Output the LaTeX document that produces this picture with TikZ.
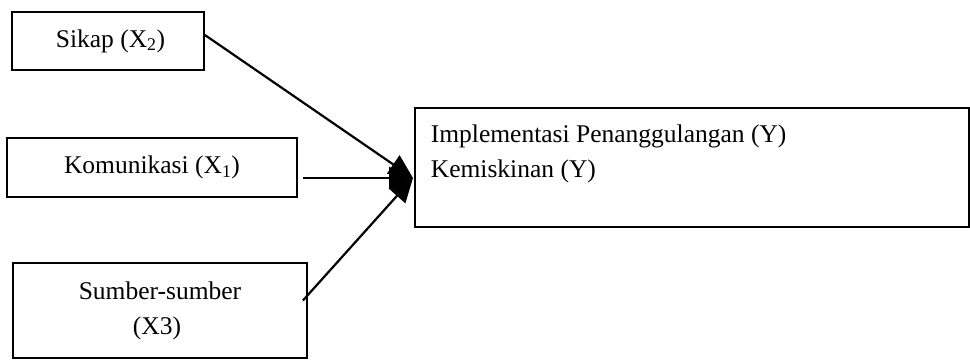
\documentclass[tikz,border=0pt]{standalone}
\usepackage{fontspec}
\setmainfont{Liberation Serif}
\usetikzlibrary{arrows.meta}
\begin{document}
\begin{tikzpicture}[x=1pt, y=-1pt, font=\fontsize{25.5}{35}\selectfont,
    box/.style={draw, line width=1.8pt, inner sep=0pt, align=center},
    link/.style={line width=2.2pt, -{Triangle[length=24pt, width=22pt]}}]
    \useasboundingbox (0,0) rectangle (970,360);
    \node[box, minimum width=192pt, minimum height=58pt] (sikap) at (108,41)
        {\hspace*{5pt}Sikap (X\textsubscript{2})};
    \node[box, minimum width=290pt, minimum height=59pt] (komunikasi) at (152,167.5)
        {Komunikasi (X\textsubscript{1})};
    \node[box, minimum width=294pt, minimum height=95pt] (sumber) at (160,310.5)
        {Sumber-sumber\\(X3)\hspace*{6pt}};
    \node[box, anchor=north west] (impl) at (414,107)
        {\parbox[c][119pt][t]{554pt}{\vspace*{17pt}\hspace*{16pt}Implementasi Penanggulangan (Y)\\
        \hspace*{16pt}Kemiskinan (Y)}};
    \coordinate (tip) at (413,178);

    \draw[link] ([yshift=6pt]sikap.east) -- (tip);
    \draw[link] ([xshift=5pt]komunikasi.east |- tip) -- (tip);
    \draw[link] ([xshift=-5pt,yshift=10pt]sumber.east) -- (tip);
\end{tikzpicture}
\end{document}
